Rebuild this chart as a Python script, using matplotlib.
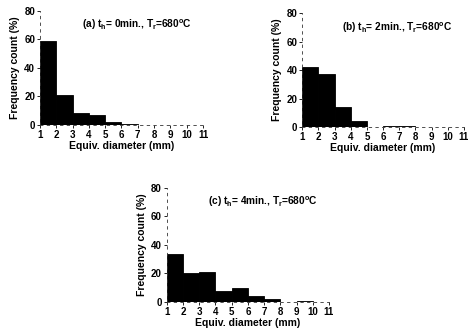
import matplotlib
matplotlib.use("Agg")
import matplotlib.pyplot as plt

plt.rcParams['font.family'] = ['Liberation Sans', 'DejaVu Sans']
plt.rcParams['font.weight'] = 'bold'

bin_edges = [1, 2, 3, 4, 5, 6, 7, 8, 9, 10]
vals_a = [59, 21, 8.5, 7, 2, 1, 0, 0, 0, 0.3]
vals_b = [42, 37, 14, 4, 0, 1, 1, 0, 0, 0]
vals_c = [34, 20, 21, 8, 10, 4, 2, 0, 1, 0]
xticks = list(range(1, 12))
yticks = [0, 20, 40, 60, 80]
titles = [r"(a) t$_\mathregular{h}$= 0min., T$_\mathregular{r}$=680$^\mathregular{o}$C",
          r"(b) t$_\mathregular{h}$= 2min., T$_\mathregular{r}$=680$^\mathregular{o}$C",
          r"(c) t$_\mathregular{h}$= 4min., T$_\mathregular{r}$=680$^\mathregular{o}$C"]

fig = plt.figure(figsize=(4.7, 3.29), dpi=100)
positions = [[0.085, 0.620, 0.347, 0.347],
             [0.643, 0.614, 0.344, 0.346],
             [0.355, 0.082, 0.345, 0.347]]

for pos, vals, title in zip(positions, [vals_a, vals_b, vals_c], titles):
    ax = fig.add_axes(pos)
    ax.bar(bin_edges, vals, width=1, align='edge', color='black', edgecolor='black', linewidth=0.6)
    ax.set_xlim(1, 11)
    ax.set_ylim(0, 80)
    ax.set_xticks(xticks)
    ax.set_yticks(yticks)
    ax.tick_params(labelsize=7, length=2, width=0.6, pad=1.5)
    for lab in ax.get_xticklabels() + ax.get_yticklabels():
        lab.set_fontweight('bold')
    for s in ['top', 'right']:
        ax.spines[s].set_visible(False)
    for s in ['left', 'bottom']:
        ax.spines[s].set_linewidth(0.6)
        ax.spines[s].set_linestyle((0, (3, 5)))
        ax.spines[s].set_color('#333333')
    ax.set_xlabel("Equiv. diameter (mm)", fontsize=7.5, fontweight='bold', labelpad=1)
    ax.set_ylabel("Frequency count (%)", fontsize=7.5, fontweight='bold', labelpad=3)
    ax.text(0.93, 0.875, title, transform=ax.transAxes, ha='right', va='center',
            fontsize=7.3, fontweight='bold')

fig.savefig("out.png", dpi=100)
